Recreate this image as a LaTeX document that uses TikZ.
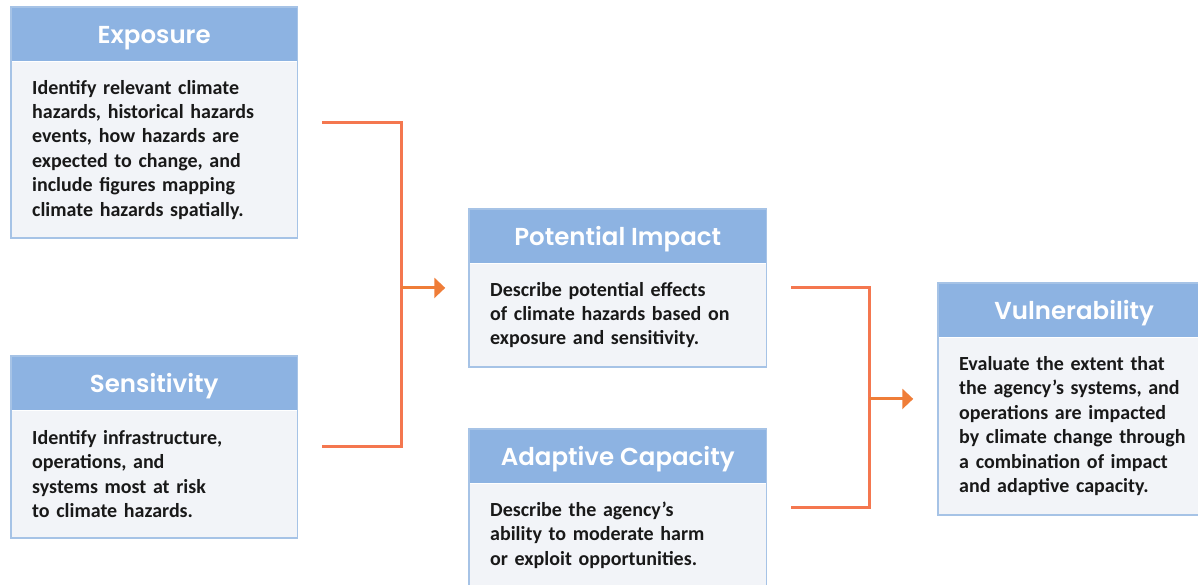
\documentclass[tikz,border=0pt]{standalone}
\usepackage{fontspec}
\setmainfont{Carlito}
\newfontfamily\headfont{Poppins}[BoldFont={Poppins SemiBold}]
\usetikzlibrary{positioning,fit,arrows.meta}
\definecolor{headblue}{HTML}{8DB3E2}
\definecolor{bodygray}{HTML}{F2F4F8}
\definecolor{edgeblue}{HTML}{A6C3E6}
\definecolor{linered}{HTML}{F4774F}
\definecolor{tiporange}{HTML}{EF7D38}
\tikzset{>={Triangle[length=11pt,width=20pt]}}
\tikzset{
  head/.style={fill=headblue, minimum height=54pt, inner sep=0pt, anchor=north west,
    text height=19pt, text depth=0pt,
    text=white, font=\headfont\bfseries\fontsize{24.5}{30}\selectfont},
  body/.style={fill=bodygray, inner xsep=21pt, inner ysep=0pt, align=left, anchor=north,
    text=black!90, font=\bfseries\fontsize{20}{24.4}\selectfont},
  frame/.style={draw=edgeblue, line width=1.5pt, inner sep=0pt},
  link/.style={draw=linered, line width=3pt},
}

\begin{document}
\begin{tikzpicture}[x=1pt,y=-1pt]
  \useasboundingbox (0,0) rectangle (1198,584);
  % left column
  \node[head, minimum width=286pt] (exph) at (11,7) {Exposure};
  \node[body, text width=244pt, minimum height=176pt] (expb) at (exph.south) {Identify relevant climate\\hazards, historical hazards\\events, how hazards are\\expected to change, and\\include figures mapping\\climate hazards spatially.};
  \node[frame, fit=(exph)(expb)] (expo) {};
  \node[head, minimum width=286pt] (sensh) at (11,356) {Sensitivity};
  \node[body, text width=244pt, minimum height=127pt] (sensb) at (sensh.south) {Identify infrastructure,\\operations, and\\systems most at risk\\to climate hazards.};
  \node[frame, fit=(sensh)(sensb)] (sens) {};
  % middle column
  \node[head, minimum width=297pt] (poth) at (469,209) {Potential Impact};
  \node[body, text width=255pt, minimum height=103pt] (potb) at (poth.south) {Describe potential effects\\of climate hazards based on\\exposure and sensitivity.};
  \node[frame, fit=(poth)(potb)] (pot) {};
  \node[head, minimum width=297pt] (adaph) at (469,429) {Adaptive Capacity};
  \node[body, text width=255pt, minimum height=103pt] (adapb) at (adaph.south) {Describe the agency’s\\ability to moderate harm\\or exploit opportunities.};
  \node[frame, fit=(adaph)(adapb)] (adap) {};
  % right column
  \node[head, minimum width=272pt] (vulnh) at (938,283) {Vulnerability};
  \node[body, text width=230pt, minimum height=177pt] (vulnb) at (vulnh.south) {Evaluate the extent that\\the agency’s systems, and\\operations are impacted\\by climate change through\\a combination of impact\\and adaptive capacity.};
  \node[frame, fit=(vulnh)(vulnb)] (vuln) {};
  % connectors
  \coordinate (join1) at ([xshift=-67pt]pot.west);
  \coordinate (join2) at ([xshift=-68pt]vuln.west);
  \draw[link, shorten <=24pt] (expo.east) -| (join1);
  \draw[link, shorten <=24pt] (sens.east) -| (join1);
  \draw[link, draw=tiporange, ->, shorten >=23pt] (join1) -- (pot.west);
  \draw[link, shorten <=24pt] (pot.east) -| (join2);
  \draw[link, shorten <=24pt] (adap.east) -| (join2);
  \draw[link, draw=tiporange, ->, shorten >=24pt] (join2) -- (vuln.west);
\end{tikzpicture}
\end{document}
